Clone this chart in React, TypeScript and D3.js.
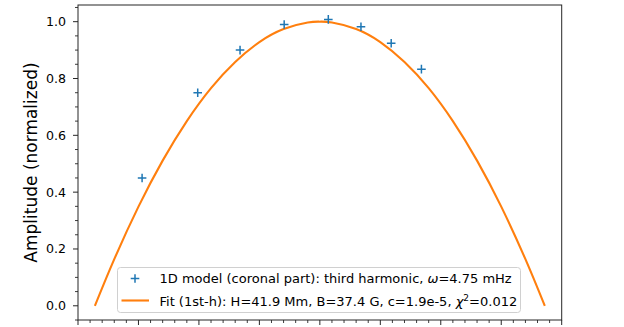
import React, { useEffect, useRef } from "react";
import * as d3 from "d3";

// observed amplitudes (+ markers)
const obsX = [5.3, 9.9, 13.4, 17.05, 20.7, 23.4, 25.9, 28.4];
const obsY = [0.45, 0.75, 0.9, 0.99, 1.008, 0.982, 0.924, 0.833];

// fitted curve
const fitX = [1.4, 3, 5, 7, 9, 11, 13, 15, 17, 19, 20, 21, 23, 25, 27, 29, 31, 33, 35, 37, 38.6];
const fitY = [0.0, 0.164, 0.349, 0.511, 0.65, 0.766, 0.858, 0.928, 0.974, 0.997, 1.0, 0.997, 0.974, 0.928, 0.858, 0.766, 0.65, 0.511, 0.349, 0.164, 0.0];

const yTicks = [0.0, 0.2, 0.4, 0.6, 0.8, 1.0];
const yTickLabels = ["0.0", "0.2", "0.4", "0.6", "0.8", "1.0"];
const xMajor = [0, 5, 10, 15, 20, 25, 30, 35, 40];

const App = () => {
  const svgRef = useRef<SVGSVGElement>(null);

  useEffect(() => {
    const width = 624;
    const height = 327;
    const margin = { top: 5, right: 62.3, bottom: 7, left: 78 };
    const blue = "#1f77b4";
    const orange = "#ff7f0e";
    const font = "'DejaVu Sans', sans-serif";

    const svg = d3.select(svgRef.current).attr("width", width).attr("height", height);
    svg.selectAll("*").remove();

    const x = d3.scaleLinear().domain([0, 40]).range([margin.left, width - margin.right]);
    const y = d3.scaleLinear().domain([-0.05, 1.0587]).range([height - margin.bottom, margin.top]);

    // fit line
    const line = d3
      .line<number>()
      .x((d, i) => x(fitX[i]))
      .y((d) => y(d))
      .curve(d3.curveNatural);
    svg.append("path")
      .datum(fitY)
      .attr("d", line)
      .attr("fill", "none")
      .attr("stroke", orange)
      .attr("stroke-width", 2.1);

    // markers
    const ms = 4.3;
    const plus = (g: any, cx: number, cy: number) => {
      g.append("path")
        .attr("d", `M${cx - ms},${cy}H${cx + ms}M${cx},${cy - ms}V${cy + ms}`)
        .attr("stroke", blue)
        .attr("stroke-width", 1.5)
        .attr("fill", "none");
    };
    const mg = svg.append("g");
    obsX.forEach((v, i) => plus(mg, x(v), y(obsY[i])));

    // axes
    const axColor = "#262626";
    const x0 = margin.left;
    const x1 = width - margin.right;
    const y0 = height - margin.bottom;
    const y1 = margin.top;
    svg.append("rect")
      .attr("x", x0).attr("y", y1)
      .attr("width", x1 - x0).attr("height", y0 - y1)
      .attr("fill", "none").attr("stroke", axColor).attr("stroke-width", 1);

    // y ticks
    const yMinor = d3.range(-0.05, 1.06, 0.05).filter((v) => !yTicks.some((t) => Math.abs(t - v) < 1e-6));
    yMinor.forEach((v) => {
      svg.append("line").attr("x1", x0 - 3).attr("x2", x0).attr("y1", y(v)).attr("y2", y(v))
        .attr("stroke", axColor).attr("stroke-width", 0.9);
    });
    yTicks.forEach((v, i) => {
      svg.append("line").attr("x1", x0 - 5).attr("x2", x0).attr("y1", y(v)).attr("y2", y(v))
        .attr("stroke", axColor).attr("stroke-width", 1);
      svg.append("text")
        .attr("x", x0 - 12).attr("y", y(v))
        .attr("text-anchor", "end").attr("dominant-baseline", "central")
        .attr("font-family", font).attr("font-size", 12.6).attr("fill", "#000")
        .text(yTickLabels[i]);
    });

    // x ticks (labels fall outside the picture)
    d3.range(0, 41, 1).forEach((v) => {
      const major = xMajor.includes(v);
      svg.append("line").attr("x1", x(v)).attr("x2", x(v)).attr("y1", y0).attr("y2", y0 + (major ? 5 : 3))
        .attr("stroke", axColor).attr("stroke-width", major ? 1 : 0.9);
    });

    // y label
    svg.append("text")
      .attr("transform", `translate(31,${(y0 + y1) / 2}) rotate(-90)`)
      .attr("text-anchor", "middle").attr("dominant-baseline", "central")
      .attr("font-family", font).attr("font-size", 17).attr("fill", "#000")
      .text("Amplitude (normalized)");

    // legend
    const lg = svg.append("g");
    lg.append("rect")
      .attr("x", 117.5).attr("y", 267.5).attr("width", 403).attr("height", 45)
      .attr("rx", 3).attr("fill", "white").attr("fill-opacity", 0.8)
      .attr("stroke", "#d0d0d0").attr("stroke-width", 1);
    plus(lg, 135, 278.5);
    lg.append("line").attr("x1", 121.5).attr("x2", 149).attr("y1", 300.5).attr("y2", 300.5)
      .attr("stroke", orange).attr("stroke-width", 2.1);

    const t1 = lg.append("text").attr("x", 159.5).attr("y", 283)
      .attr("font-family", font).attr("font-size", 13).attr("fill", "#000");
    t1.append("tspan").text("1D model (coronal part): third harmonic, ");
    t1.append("tspan").attr("font-style", "italic").text("ω");
    t1.append("tspan").text("=4.75 mHz");

    const t2 = lg.append("text").attr("x", 159.5).attr("y", 305.5)
      .attr("font-family", font).attr("font-size", 13).attr("fill", "#000");
    t2.append("tspan").text("Fit (1st-h): H=41.9 Mm, B=37.4 G, c=1.9e-5, ");
    t2.append("tspan").attr("font-style", "italic").text("χ");
    t2.append("tspan").attr("font-size", 9).attr("dy", -5).text("2");
    t2.append("tspan").attr("dy", 5).text("=0.012");
  }, []);

  return <svg ref={svgRef} style={{ position: "absolute", left: 0, top: 0 }}></svg>;
};

export default App;
